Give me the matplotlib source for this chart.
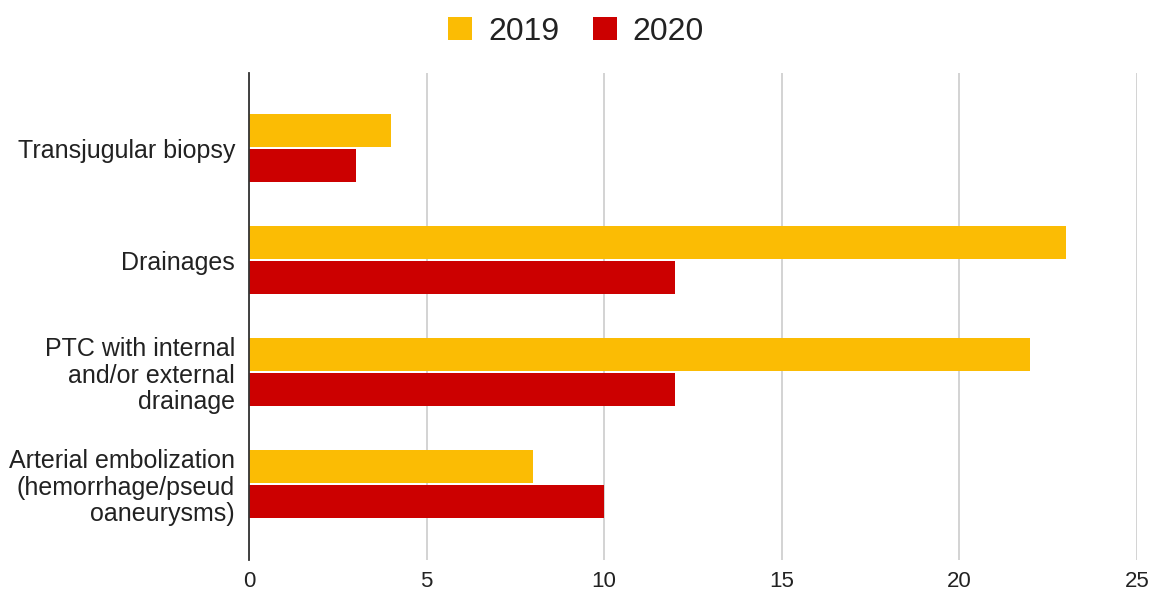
import matplotlib.pyplot as plt
import numpy as np

plt.rcParams['font.family'] = ['Liberation Sans', 'DejaVu Sans']

categories = ["Transjugular biopsy",
              "Drainages",
              "PTC with internal\nand/or external\ndrainage",
              "Arterial embolization\n(hemorrhage/pseud\noaneurysms)"]
y2019 = [4, 23, 22, 8]
y2020 = [3, 12, 12, 10]
xticks = [0, 5, 10, 15, 20, 25]

c2019 = "#fbbc04"
c2020 = "#cc0000"

fig = plt.figure(figsize=(11.52, 5.99), dpi=100)
ax = fig.add_axes([0.2161, 0.065, 0.7709, 0.813])

pos = np.arange(len(categories))
h = 0.295
ax.barh(pos - h / 2 - 0.009, y2019, height=h, color=c2019, label="2019")
ax.barh(pos + h / 2 + 0.009, y2020, height=h, color=c2020, label="2020")

ax.set_ylim(3.68, -0.67)
ax.set_xlim(0, 25)
ax.set_xticks(xticks)
ax.set_yticks(pos)
ax.set_yticklabels(categories, ha="right", multialignment="right", linespacing=1.13)
ax.tick_params(axis="y", length=0, pad=10, labelsize=18, labelcolor="#222222")
ax.tick_params(axis="x", length=0, pad=8, labelsize=16, labelcolor="#222222")

ax.grid(axis="x", color="#cccccc", linewidth=1.2)
ax.set_axisbelow(True)
for s in ["top", "right", "bottom"]:
    ax.spines[s].set_visible(False)
ax.spines["left"].set_color("#333333")
ax.spines["left"].set_linewidth(1.3)
ax.spines["left"].set_zorder(3)

fig.legend(loc="upper center", bbox_to_anchor=(0.5, 1.02), ncol=2, frameon=False,
           fontsize=23, handlelength=0.75, handleheight=0.75, handletextpad=0.5,
           columnspacing=1.05, labelcolor="#222222")

fig.savefig("out.png", dpi=100)
